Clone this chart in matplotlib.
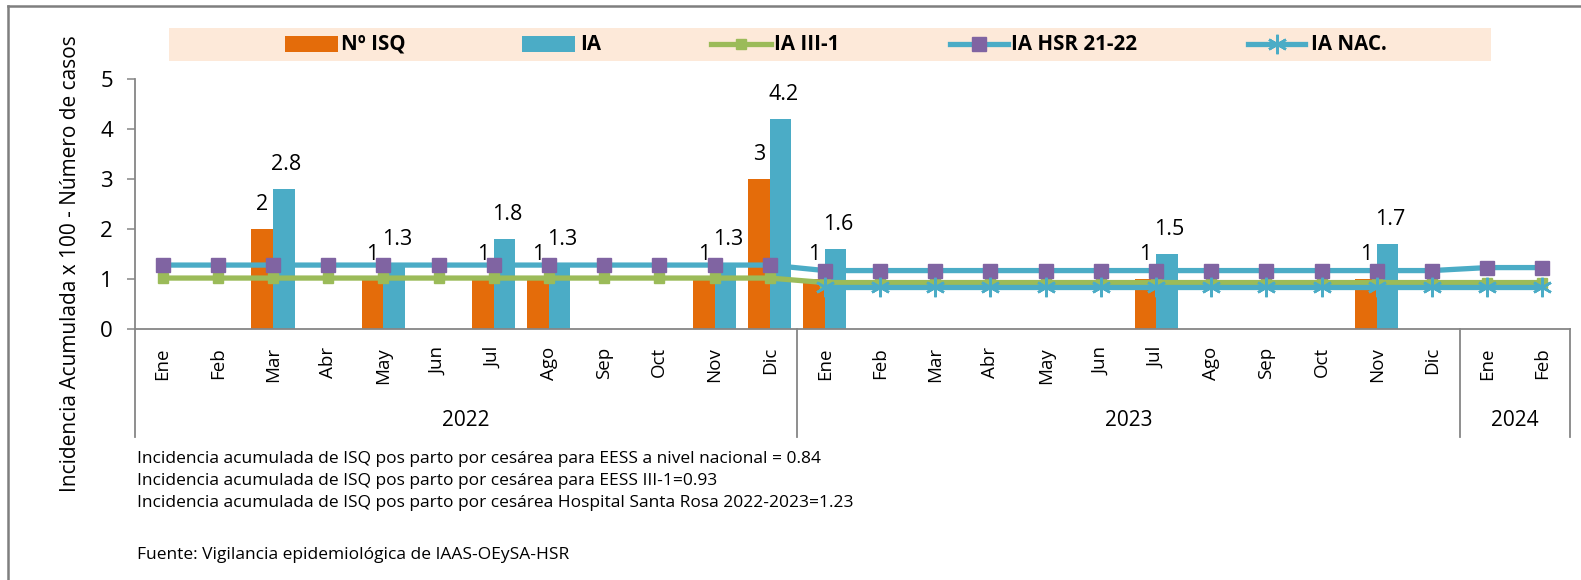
import matplotlib
matplotlib.use("Agg")
import matplotlib.pyplot as plt
import numpy as np
from matplotlib.lines import Line2D
from matplotlib.patches import Rectangle
import matplotlib.transforms as mtransforms

plt.rcParams['font.family'] = ['Open Sans', 'DejaVu Sans']

# ---------------- data ----------------
months = ["Ene", "Feb", "Mar", "Abr", "May", "Jun", "Jul", "Ago", "Sep", "Oct", "Nov", "Dic",
          "Ene", "Feb", "Mar", "Abr", "May", "Jun", "Jul", "Ago", "Sep", "Oct", "Nov", "Dic",
          "Ene", "Feb"]
years = ["2022", "2023", "2024"]
year_counts = [12, 12, 2]

n_isq = [0, 0, 2, 0, 1, 0, 1, 1, 0, 0, 1, 3,
         1, 0, 0, 0, 0, 0, 1, 0, 0, 0, 1, 0,
         0, 0]
ia = [0, 0, 2.8, 0, 1.3, 0, 1.8, 1.3, 0, 0, 1.3, 4.2,
      1.6, 0, 0, 0, 0, 0, 1.5, 0, 0, 0, 1.7, 0,
      0, 0]
ia_iii1 = [1.02] * 12 + [0.93] * 12 + [0.93] * 2
ia_hsr = [1.28] * 12 + [1.17] * 12 + [1.23] * 2
ia_nac = [np.nan] * 12 + [0.84] * 12 + [0.84] * 2

legend_labels = ["Nº ISQ", "IA", "IA III-1", "IA HSR 21-22", "IA NAC."]
notes = ["Incidencia acumulada de ISQ pos parto por cesárea para EESS a nivel nacional = 0.84",
         "Incidencia acumulada de ISQ pos parto por cesárea para EESS III-1=0.93",
         "Incidencia acumulada de ISQ pos parto por cesárea Hospital Santa Rosa 2022-2023=1.23"]
source = "Fuente: Vigilancia epidemiológica de IAAS-OEySA-HSR"
ylabel = "Incidencia Acumulada x 100 - Número de casos"

# ---------------- style ----------------
C_OR = "#E46C0A"
C_BL = "#4BACC6"
C_GR = "#9BBB59"
C_PU = "#8064A2"
C_AX = "#868686"

W, H = 1581, 580
fig = plt.figure(figsize=(W / 100, H / 100), dpi=100)

def fx(px):
    return px / W

def fy(py):
    return 1 - py / H

ax_l, ax_r, ax_t, ax_b = 135, 1570, 79.3, 329
ax = fig.add_axes([fx(ax_l), fy(ax_b), fx(ax_r) - fx(ax_l), fy(ax_t) - fy(ax_b)])

x = np.arange(len(months))
bw = 0.39
ax.bar(x - bw / 2, n_isq, width=bw, color=C_OR, zorder=2)
ax.bar(x + bw / 2, ia, width=bw, color=C_BL, zorder=2)

ax.plot(x, ia_iii1, color=C_GR, lw=3.8, marker="s", ms=7.5, mfc=C_GR, mec=C_GR, zorder=3)
ax.plot(x, ia_hsr, color=C_BL, lw=3.8, marker="s", ms=10.5, mfc=C_PU, mec=C_PU, zorder=4)
ax.plot(x, ia_nac, color=C_BL, lw=3.8, marker=(6, 2, 0), ms=14, mec=C_BL, mew=1.8, zorder=5)

# data labels
for i in range(len(months)):
    if n_isq[i]:
        ax.annotate(f"{n_isq[i]:g}", (x[i] - bw / 2, n_isq[i]), xytext=(0, 18),
                    textcoords="offset points", ha="center", va="center", fontsize=15.5, zorder=6)
    if ia[i]:
        ax.annotate(f"{ia[i]:g}", (x[i] + bw / 2, ia[i]), xytext=(2, 18),
                    textcoords="offset points", ha="center", va="center", fontsize=15.5, zorder=6)

ax.set_xlim(-0.5, len(months) - 0.5)
ax.set_ylim(0, 5)
ax.set_yticks(range(6))
ax.tick_params(axis="y", length=6, width=1.1, color=C_AX, labelsize=16, pad=10, direction="out")
ax.set_xticks(x)
ax.set_xticklabels(months, rotation=90, fontsize=13.5)
ax.tick_params(axis="x", length=0, pad=13)
for s in ["top", "right"]:
    ax.spines[s].set_visible(False)
for s in ["left", "bottom"]:
    ax.spines[s].set_color(C_AX)
    ax.spines[s].set_linewidth(1.3)

# year separators and labels
trans = mtransforms.blended_transform_factory(ax.transData, ax.transAxes)
ybot = (ax_b - 437) / (ax_b - ax_t)
yyear = (ax_b - 420) / (ax_b - ax_t)
bounds = [-0.5]
for c in year_counts:
    bounds.append(bounds[-1] + c)
for b in bounds:
    ax.plot([b, b], [0, ybot], transform=trans, color=C_AX, lw=1.3, clip_on=False)
for yr, b0, b1 in zip(years, bounds[:-1], bounds[1:]):
    ax.text((b0 + b1) / 2, yyear, yr, transform=trans, ha="center", va="center", fontsize=15)

# y label
fig.text(fx(71), fy(264), ylabel, rotation=90, ha="center", va="center", fontsize=15)

# outer frame (top and left)
fig.add_artist(Line2D([fx(8), 1], [fy(6), fy(6)], color="#7f7f7f", lw=1.8))
fig.add_artist(Line2D([fx(8), fx(8)], [0, fy(6)], color="#7f7f7f", lw=1.8))

# legend box
fig.add_artist(Rectangle((fx(169), fy(61)), fx(1491) - fx(169), fy(28) - fy(61),
                         transform=fig.transFigure, facecolor="#FDE9D9", edgecolor="none"))
ly = 44
fig.add_artist(Rectangle((fx(285), fy(52)), fx(338) - fx(285), fy(36) - fy(52),
                         transform=fig.transFigure, facecolor=C_OR, edgecolor="none"))
fig.add_artist(Rectangle((fx(522), fy(52)), fx(575) - fx(522), fy(36) - fy(52),
                         transform=fig.transFigure, facecolor=C_BL, edgecolor="none"))

def leg_line(x0, x1, color, marker, ms, mfc, mec, mew=1.0):
    xm = (x0 + x1) / 2
    fig.add_artist(Line2D([fx(x0), fx(xm), fx(x1)], [fy(ly)] * 3, color=color, lw=3.8,
                          marker=marker, markevery=[1], ms=ms, mfc=mfc, mec=mec, mew=mew))

leg_line(711, 771, C_GR, "s", 7.5, C_GR, C_GR)
leg_line(950, 1008, C_BL, "s", 10.5, C_PU, C_PU)
leg_line(1248, 1305, C_BL, (6, 2, 0), 14, C_BL, C_BL, 1.8)

for tx, lab in zip([341, 580, 774, 1011, 1311], legend_labels):
    fig.text(fx(tx), fy(ly), lab, ha="left", va="center", fontsize=14.8, fontweight="bold")

# footnotes
for yy, t in zip([459, 481, 503], notes):
    fig.text(fx(137), fy(yy), t, ha="left", va="center", fontsize=12.5)
fig.text(fx(137), fy(555), source, ha="left", va="center", fontsize=12.5)

fig.savefig("out.png", dpi=100)
